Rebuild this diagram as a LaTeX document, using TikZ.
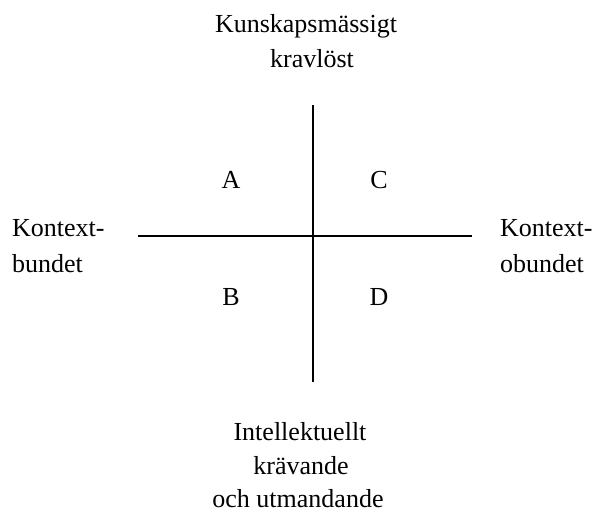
\documentclass[tikz,border=0pt]{standalone}
\usepackage{fontspec}
\setmainfont{Liberation Serif}
\usetikzlibrary{positioning}
\tikzset{
    axislabel/.style={font=\fontsize{26}{35}\selectfont, inner sep=0pt, anchor=base},
    quadlabel/.style={font=\fontsize{26}{35}\selectfont, inner sep=0pt, anchor=base},
    axisline/.style={line width=2pt, color=black},
}
\begin{document}
\begin{tikzpicture}[x=1pt, y=-1pt]
    \useasboundingbox (0,0) rectangle (595,513);
    % axes
    \coordinate (top) at (313,105);
    \coordinate (bottom) at (313,382);
    \coordinate (left) at (138,236);
    \coordinate (right) at (472,236);
    \draw[axisline] (top) -- (bottom);
    \draw[axisline] (left) -- (right);
    % axis labels
    \node[axislabel] (know1) at (306,33) {Kunskapsmässigt};
    \node[axislabel] (know2) at (312,68) {kravlöst};
    \node[axislabel] (intel1) at (300,440) {Intellektuellt};
    \node[axislabel] (intel2) at (301,474) {krävande};
    \node[axislabel] (intel3) at (298,507) {och utmandande};
    \node[axislabel, anchor=base west] (ctxb1) at (12,237) {Kontext-};
    \node[axislabel, anchor=base west] (ctxb2) at (12,273) {bundet};
    \node[axislabel, anchor=base west] (ctxo1) at (500,237) {Kontext-};
    \node[axislabel, anchor=base west] (ctxo2) at (500,273) {obundet};
    % quadrants
    \node[quadlabel] (qa) at (231,189) {A};
    \node[quadlabel] (qc) at (379,189) {C};
    \node[quadlabel] (qb) at (231,306) {B};
    \node[quadlabel] (qd) at (379,306) {D};
\end{tikzpicture}
\end{document}
